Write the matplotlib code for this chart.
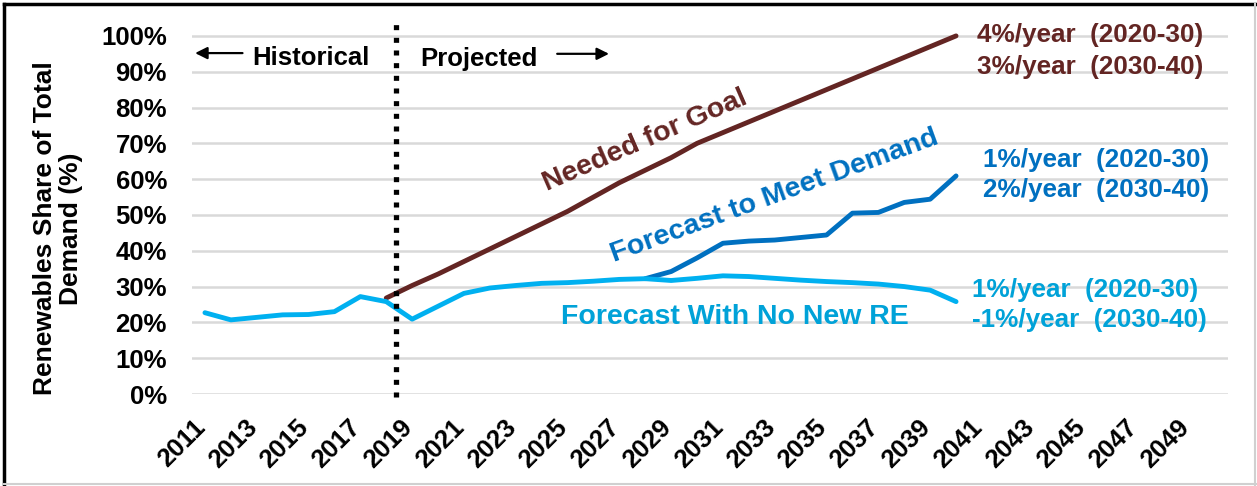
import numpy as np
import matplotlib
matplotlib.use("Agg")
import matplotlib.pyplot as plt
from matplotlib.lines import Line2D
from matplotlib.ticker import FixedLocator, FuncFormatter
import matplotlib.transforms as mtransforms

plt.rcParams['font.family'] = ['Liberation Sans', 'DejaVu Sans']
plt.rcParams['font.weight'] = 'bold'

# ---------------- data ----------------
years = list(range(2011, 2051))
tick_years = list(range(2011, 2050, 2))

no_new_re_years = list(range(2011, 2041))
no_new_re = [22.7, 20.7, 21.4, 22.1, 22.2, 23.0, 27.2, 25.8, 20.9, 24.5,
             28.1, 29.6, 30.3, 30.9, 31.1, 31.5, 32.0, 32.2, 31.7, 32.3,
             33.0, 32.8, 32.3, 31.8, 31.4, 31.1, 30.7, 30.0, 29.0, 25.8]

meet_demand_years = list(range(2028, 2041))
meet_demand = [32.2, 34.2, 38.0, 42.1, 42.7, 43.0, 43.7, 44.4, 50.5, 50.7,
               53.5, 54.4, 60.9]

goal_years = list(range(2018, 2041))
goal = [26.8, 30.3, 33.5, 37.0, 40.5, 44.0, 47.5, 51.0, 55.0, 59.0, 62.5,
        66.0, 70.0, 73.0, 76.0, 79.0, 82.0, 85.0, 88.0, 91.0, 94.0, 97.0, 100.0]

y_ticks = [0, 10, 20, 30, 40, 50, 60, 70, 80, 90, 100]

goal_rates = ["4%/year  (2020-30)", "3%/year  (2030-40)"]
demand_rates = ["1%/year  (2020-30)", "2%/year  (2030-40)"]
nonew_rates = ["1%/year  (2020-30)", "-1%/year  (2030-40)"]

divider_year = 2018.36

# ---------------- style ----------------
BROWN = "#632523"
DBLUE = "#0070C0"
LBLUE = "#00B0F0"
LBLUE_TXT = "#00A2D8"
GRID = "#D9D9D9"

W, H = 1257, 486
fig = plt.figure(figsize=(W / 100, H / 100), dpi=100)
ax = fig.add_axes([192 / W, (H - 394) / H, 1036 / W, 376 / H])

ax.set_xlim(2010.5, 2050.5)
ax.set_ylim(0, 105)
for s in ax.spines.values():
    s.set_visible(False)

ax.yaxis.set_major_locator(FixedLocator(y_ticks))
ax.yaxis.set_major_formatter(FuncFormatter(lambda v, p: f"{int(v)}%"))
ax.grid(axis='y', color=GRID, lw=1.8, zorder=0)
ax.set_axisbelow(True)
ax.tick_params(axis='y', length=0, pad=18, labelsize=18.5)

ax.set_xticks(tick_years)
ax.set_xticklabels([str(y) for y in tick_years], rotation=45, ha='right',
                   fontsize=18.5)
ax.tick_params(axis='x', length=0, pad=15)
offset = mtransforms.ScaledTranslation(5 / 100, 0, fig.dpi_scale_trans)
for lab in ax.get_xticklabels():
    lab.set_transform(lab.get_transform() + offset)

# lines
ax.plot(meet_demand_years, meet_demand, color=DBLUE, lw=3.5,
        solid_joinstyle='round', solid_capstyle='round', zorder=3)
ax.plot(no_new_re_years, no_new_re, color=LBLUE, lw=3.5,
        solid_joinstyle='round', solid_capstyle='round', zorder=4)
ax.plot(goal_years, goal, color=BROWN, lw=3.5,
        solid_joinstyle='round', solid_capstyle='round', zorder=3)

# divider
ax.plot([divider_year, divider_year], [-0.9, 104.5], color='black', lw=3.8,
        linestyle=(0, (0.95, 1.45)), clip_on=False, zorder=5)

# historical / projected labels
ax.annotate("", xy=(2010.62, 95.2), xytext=(2012.45, 95.2),
            arrowprops=dict(arrowstyle='-|>', lw=1.6, color='black',
                            mutation_scale=18, shrinkA=0, shrinkB=0))
ax.text(2012.82, 91.8, "Historical", fontsize=18.5, color='black',
        ha='left', va='baseline')
ax.text(2019.30, 91.5, "Projected", fontsize=18.5, color='black',
        ha='left', va='baseline')
ax.annotate("", xy=(2026.6, 95.0), xytext=(2024.6, 95.0),
            arrowprops=dict(arrowstyle='-|>', lw=1.6, color='black',
                            mutation_scale=18, shrinkA=0, shrinkB=0))

# series labels
ax.text(2028.0, 70.7, "Needed for Goal", fontsize=20.5, color=BROWN,
        rotation=23.5, ha='center', va='center', rotation_mode='anchor')
ax.text(2033.0, 55.3, "Forecast to Meet Demand", fontsize=20.5, color=DBLUE,
        rotation=20, ha='center', va='center', rotation_mode='anchor')
ax.text(2031.46, 21.5, "Forecast With No New RE", fontsize=20.5,
        color=LBLUE_TXT, ha='center', va='center')

# rate annotations
for txt, y in zip(goal_rates, [100.3, 91.4]):
    ax.text(2040.81, y, txt, fontsize=18.8, color=BROWN, ha='left',
            va='center', clip_on=False)
for txt, y in zip(demand_rates, [65.4, 57.0]):
    ax.text(2041.04, y, txt, fontsize=18.8, color=DBLUE, ha='left',
            va='center', clip_on=False)
for txt, y in zip(nonew_rates, [29.0, 20.7]):
    ax.text(2040.6, y, txt, fontsize=18.8, color=LBLUE_TXT, ha='left',
            va='center', clip_on=False)

# y label
ax.text(-0.129, 0.44, "Renewables Share of Total\nDemand (%)",
        transform=ax.transAxes, rotation=90, ha='center', va='center',
        fontsize=19, multialignment='center', linespacing=1.12)

# frame
fig.add_artist(Line2D([4 / W, 4 / W], [0, 1 - 4 / H], color='black', lw=2.5,
                      transform=fig.transFigure))
fig.add_artist(Line2D([4 / W, 1], [1 - 4 / H, 1 - 4 / H], color='black',
                      lw=2.5, transform=fig.transFigure))
fig.add_artist(Line2D([1 - 2 / W, 1 - 2 / W], [0, 1 - 4 / H], color='#D0D0D0',
                      lw=1.5, transform=fig.transFigure))
fig.add_artist(Line2D([4 / W, 1], [2 / H, 2 / H], color='#D0D0D0', lw=1.5,
                      transform=fig.transFigure))

fig.savefig("out.png", dpi=100)
